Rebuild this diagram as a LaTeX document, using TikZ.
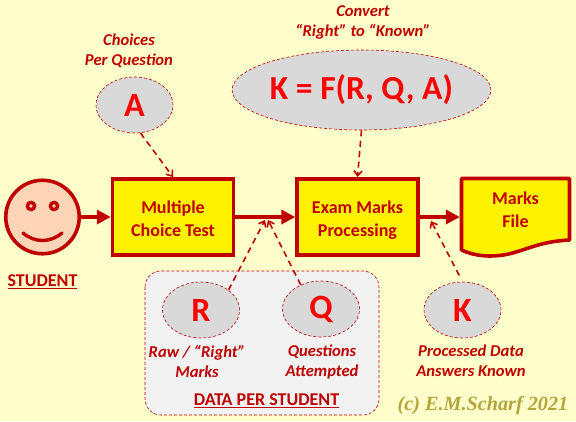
\documentclass[tikz,border=0pt]{standalone}
\usepackage{fontspec}
\usepackage{xcolor}
\usetikzlibrary{arrows.meta,positioning,shapes.geometric}
\setmainfont{Carlito}
\newfontfamily\markfont{Liberation Serif}
\definecolor{paper}{HTML}{FFFFCC}
\definecolor{deepred}{HTML}{C00000}
\definecolor{skin}{HTML}{FBD5B5}
\definecolor{bubblegray}{HTML}{D9D9D9}
\definecolor{panelgray}{HTML}{F2F2F2}
\definecolor{olive}{HTML}{B3A63C}

\begin{document}
\begin{tikzpicture}[x=1pt,y=-1pt,
    flow/.style={-{Triangle[length=14pt,width=14pt]},draw=deepred,line width=4.4pt},
    feed/.style={-{Straight Barb[length=5pt,width=8pt]},draw=deepred,line width=1.6pt,dash pattern=on 6pt off 4.5pt},
    process/.style={draw=deepred,line width=3.6pt,fill=yellow,minimum width=120.8pt,minimum height=76.4pt},
    boxtext/.style={text=deepred,align=center,inner sep=0pt,font=\fontsize{18}{23}\selectfont\bfseries},
    bubble/.style={ellipse,draw=deepred,densely dashed,line width=.6pt,fill=bubblegray,inner sep=0pt,
                minimum width=77pt,minimum height=56pt,text=red,font=\fontsize{34}{38}\selectfont\bfseries},
    note/.style={text=deepred,align=center,inner sep=0pt,font=\fontsize{16.6}{20}\selectfont\bfseries\itshape},
    heading/.style={text=deepred,inner sep=0pt,font=\fontsize{18}{20}\selectfont\bfseries},
    facepart/.style={draw=deepred,line width=3.4pt,line cap=round}]
    \fill[paper] (0,0) rectangle (576,421);
    \useasboundingbox (0,0) rectangle (576,421);
    \draw[deepred,densely dashed,line width=.6pt,fill=panelgray,rounded corners=16pt] (145,271) rectangle (379,415);

    \node[circle,draw=deepred,line width=3.6pt,fill=skin,minimum size=73.5pt,inner sep=0pt] (student) at (42.5,217) {};
    \draw[facepart] (31,206) circle (3.6pt);
    \draw[facepart] (54,206) circle (3.6pt);
    \draw[facepart] (23,233) .. controls (35,243) and (50,243) .. (62,233);
    \node[heading,below=19pt of student] (studentname) {\underline{STUDENT}};

    \node[process] (test) at (173,217) {};
    \node[boxtext] (testname) at (173,219) {Multiple\\Choice Test};
    \node[process] (marks) at (357.5,217) {};
    \node[boxtext] (marksname) at (357.5,220) {Exam Marks\\Processing};
    \draw[deepred,line width=3.6pt,fill=yellow,line join=round] (461.5,178.5) -- (569.5,178.5) -- (569.5,240)
        .. controls (530,242) and (520,256) .. (490,256) .. controls (480,256) and (470,254) .. (461.5,250) -- cycle;
    \node[boxtext,minimum width=111pt] (file) at (515.5,210) {Marks\\File};

    \node[bubble] (choices) at (134.5,105) {A};
    \node[bubble,minimum width=257pt,minimum height=80pt,font=\fontsize{33.6}{36}\selectfont\bfseries] (convert) at (361.5,90) {K = F(R, Q, A)};
    \node[bubble] (raw) at (201,310) {R};
    \node[bubble] (attempted) at (321,309) {Q};
    \node[bubble] (known) at (462.5,310) {K};

    \node[note,above=9pt of choices,xshift=-5.5pt] (choicesnote) {Choices\\Per Question};
    \node[note,above=10pt of convert,xshift=1.5pt] (convertnote) {Convert\\“Right” to “Known”};
    \node[note,below=7pt of raw,xshift=-4pt] (rawnote) {Raw / “Right”\\Marks};
    \node[note,below=7pt of attempted,xshift=1pt] (attemptednote) {Questions\\Attempted};
    \node[note,below=6pt of known,xshift=8.5pt] (knownnote) {Processed Data\\Answers Known};
    \node[heading] (panelname) at (266.5,401) {\underline{DATA PER STUDENT}};
    \node[text=olive,inner sep=0pt,font=\fontsize{20.2}{22}\selectfont\markfont\bfseries\itshape] (credit) at (483,406) {(c) E.M.Scharf 2021};

    \coordinate (rawtip) at (265,220);
    \coordinate (attemptedtip) at (268,220);
    \coordinate (knowntip) at (431,221);

    \draw[flow] (student)--(test);
    \draw[flow] (test)--(marks);
    \draw[flow] (marks.east)--(marks.east -| file.west);
    \draw[feed] (choices.282)--(test.north);
    \draw[feed] (convert.south)--(marks.north);
    \draw[feed] (raw.36)--(rawtip);
    \draw[feed] (attempted.130)--(attemptedtip);
    \draw[feed,shorten <=7pt] (known.north)--(knowntip);
\end{tikzpicture}
\end{document}
